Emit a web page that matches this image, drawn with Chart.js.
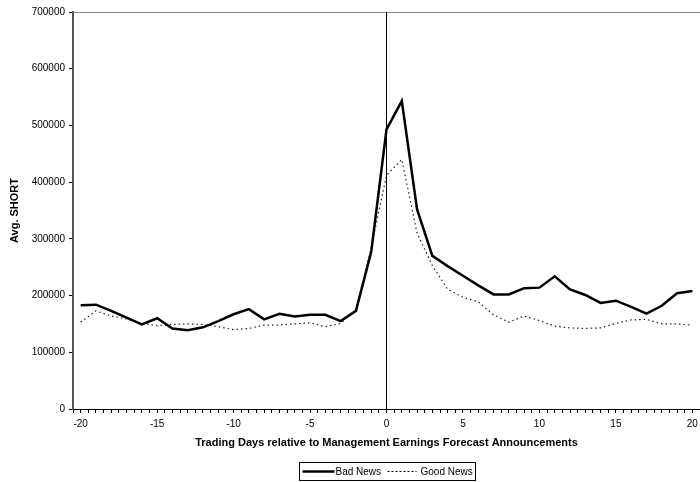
<!DOCTYPE html>
<html>
<head>
    <title>Avg. SHORT around Management Earnings Forecasts</title>
    <script src="https://cdn.jsdelivr.net/npm/chart.js"></script>
    <style>
        body {
            background: #ffffff;
            margin: 0;
            padding: 0;
        }
        #wrap {
            width: 700px;
            height: 482px;
        }
    </style>
</head>
<body>
    <div id="wrap"><canvas id="shortChart"></canvas></div>

    <script>
        // trading days relative to announcement
        const days = [-20, -19, -18, -17, -16, -15, -14, -13, -12, -11, -10, -9, -8, -7, -6, -5, -4, -3, -2, -1,
                      0, 1, 2, 3, 4, 5, 6, 7, 8, 9, 10, 11, 12, 13, 14, 15, 16, 17, 18, 19, 20];
        const badNews = [183000, 184000, 173000, 161000, 149000, 160000, 142000, 139000, 144000, 155000,
                         167000, 176000, 158000, 168000, 163000, 166000, 166000, 155000, 173000, 277000,
                         493000, 543000, 352000, 270000, 252000, 235000, 218000, 202000, 202000, 213000,
                         214000, 234000, 211000, 201000, 187000, 191000, 180000, 168000, 182000, 204000, 208000];
        const goodNews = [153000, 173000, 164000, 159000, 151000, 147000, 149000, 150000, 149000, 145000,
                          140000, 142000, 148000, 148000, 150000, 152000, 145000, 151000, 174000, 285000,
                          412000, 440000, 310000, 253000, 211000, 197000, 189000, 166000, 153000, 164000,
                          156000, 146000, 143000, 142000, 143000, 151000, 157000, 158000, 150000, 150000, 148000];
        const yTicks = [0, 100000, 200000, 300000, 400000, 500000, 600000, 700000];
        const xLabels = [-20, -15, -10, -5, 0, 5, 10, 15, 20];

        const toPoints = (vals) => days.map((d, i) => ({ x: d, y: vals[i] }));

        // legend box drawn below the axis title
        const boxLegend = {
            id: 'boxLegend',
            afterDraw(chart) {
                const c = chart.ctx;
                const cx = (chart.chartArea.left + chart.chartArea.right) / 2;
                const top = 462, h = 18, w = 176;
                const left = Math.round(cx - w / 2) + 0.5;
                c.save();
                c.strokeStyle = '#000';
                c.lineWidth = 1;
                c.strokeRect(left, top + 0.5, w, h);
                const my = top + h / 2 + 0.5;
                c.beginPath();
                c.lineWidth = 2.5;
                c.moveTo(left + 3, my);
                c.lineTo(left + 35, my);
                c.stroke();
                c.font = '10px "Liberation Sans", Arial, sans-serif';
                c.fillStyle = '#000';
                c.textBaseline = 'middle';
                c.fillText('Bad News', left + 36, my + 1);
                c.beginPath();
                c.lineWidth = 1;
                c.setLineDash([2, 2]);
                c.moveTo(left + 88, my);
                c.lineTo(left + 117, my);
                c.stroke();
                c.setLineDash([]);
                c.fillText('Good News', left + 121, my + 1);
                c.restore();
            }
        };

        const ctx = document.getElementById('shortChart').getContext('2d');
        const chart = new Chart(ctx, {
            type: 'line',
            data: {
                datasets: [
                    {
                        label: 'Bad News',
                        data: toPoints(badNews),
                        borderColor: '#000',
                        borderWidth: 2.5,
                        pointRadius: 0,
                        tension: 0
                    },
                    {
                        label: 'Good News',
                        data: toPoints(goodNews),
                        borderColor: '#222',
                        borderWidth: 1.2,
                        borderDash: [1.5, 3],
                        pointRadius: 0,
                        tension: 0
                    },
                    {
                        // announcement day marker
                        label: 'day0',
                        data: [{ x: 0, y: yTicks[0] }, { x: 0, y: yTicks[yTicks.length - 1] }],
                        borderColor: '#000',
                        borderWidth: 1,
                        pointRadius: 0
                    }
                ]
            },
            options: {
                responsive: true,
                maintainAspectRatio: false,
                animation: false,
                layout: { padding: { top: 12, left: 0, right: 0, bottom: 0 } },
                plugins: {
                    legend: { display: false },
                    tooltip: { enabled: false }
                },
                scales: {
                    x: {
                        type: 'linear',
                        min: days[0] - 0.5,
                        max: days[days.length - 1] + 0.5,
                        afterFit(scale) {
                            scale.height = 73;
                            scale.paddingLeft = 0;
                            scale.paddingRight = 0;
                        },
                        afterBuildTicks(scale) {
                            const t = [];
                            for (let v = scale.min; v <= scale.max + 1e-9; v += 0.5) t.push({ value: v });
                            scale.ticks = t;
                        },
                        ticks: {
                            autoSkip: false,
                            maxRotation: 0,
                            padding: 5,
                            color: '#000',
                            font: { family: '"Liberation Sans", Arial, sans-serif', size: 10 },
                            callback: (v) => xLabels.includes(v) ? String(v) : ''
                        },
                        grid: { drawOnChartArea: false, tickLength: 4, color: '#000' },
                        border: { color: '#000', width: 1 },
                        title: {
                            display: true,
                            text: 'Trading Days relative to Management Earnings Forecast Announcements',
                            color: '#000',
                            font: { family: '"Liberation Sans", Arial, sans-serif', size: 11, weight: 'bold' },
                            padding: { top: 0, bottom: 32 }
                        }
                    },
                    y: {
                        min: yTicks[0],
                        max: yTicks[yTicks.length - 1],
                        afterFit(scale) {
                            scale.width = 73;
                            scale.paddingTop = 0;
                            scale.paddingBottom = 0;
                        },
                        afterBuildTicks(scale) { scale.ticks = yTicks.map(v => ({ value: v })); },
                        ticks: {
                            padding: 4,
                            color: '#000',
                            font: { family: '"Liberation Sans", Arial, sans-serif', size: 10 },
                            callback: (v) => String(v)
                        },
                        grid: {
                            tickLength: 4,
                            tickColor: '#000',
                            color: (c) => c.tick && c.tick.value === yTicks[yTicks.length - 1] ? '#888' : 'rgba(0,0,0,0)'
                        },
                        border: { color: '#555', width: 2 },
                        title: {
                            display: true,
                            text: 'Avg. SHORT',
                            color: '#000',
                            font: { family: '"Liberation Sans", Arial, sans-serif', size: 11, weight: 'bold' },
                            padding: { top: 8, bottom: 0 }
                        }
                    }
                }
            },
            plugins: [boxLegend]
        });
    </script>
</body>
</html>
